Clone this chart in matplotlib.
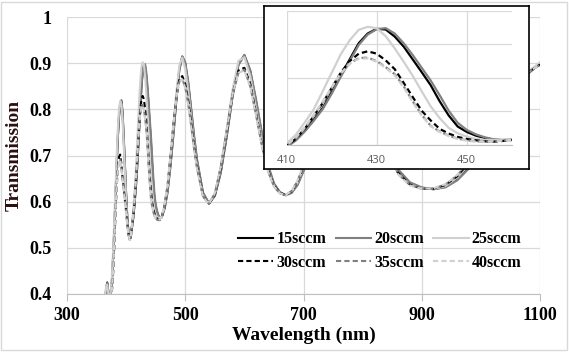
import matplotlib

matplotlib.use("Agg")
import matplotlib.pyplot as plt
from matplotlib.patches import Rectangle

# wavelength grid (nm)
WL = [360, 362, 364, 366, 368, 370, 372, 374, 376, 378, 380, 382, 384, 386, 388,
      390, 392, 394, 396, 398, 400, 402, 404, 406, 408,
      410, 412, 414, 416, 418, 420, 422, 424, 426, 428, 430, 432, 434, 436, 438,
      440, 442, 444, 446, 448, 450, 452, 454, 456, 458, 460,
      465, 470, 475, 480, 485, 490, 495, 500, 505, 510, 515, 520,
      530, 540, 550, 560, 570, 580, 590, 600, 610, 620, 630, 640, 650, 660, 670,
      680, 690, 700,
      720, 740, 760, 780, 800, 820, 840, 860, 880, 900, 920, 940, 960, 980, 1000,
      1020, 1040, 1060, 1080, 1100]

T_15 = [.30, .34, .38, .405, .425, .405, .39, .40, .43, .48, .54, .61, .68, .74, .785,
        .812, .818, .79, .735, .675, .615, .565, .532, .518, .527,
        .546, .565, .592, .625, .66, .707, .757, .805, .853, .882, .896, .894, .873, .843, .805,
        .767, .728, .68, .638, .605, .589, .578, .571, .566, .564, .566,
        .586, .622, .68, .748, .823, .887, .914, .899, .856, .798, .738, .687,
        .618, .596, .613, .664, .742, .830, .898, .917, .882, .815, .742, .676, .638, .620, .614,
        .620, .638, .668,
        .748, .839, .908, .923, .89, .82, .735, .667, .64, .63, .627, .632, .648, .675, .715,
        .76, .805, .845, .878, .90]

T_20 = [.30, .345, .385, .41, .424, .40, .385, .398, .428, .478, .538, .608, .678, .74, .787,
        .815, .82, .795, .74, .68, .618, .566, .532, .518, .526,
        .545, .563, .59, .622, .657, .703, .753, .80, .848, .879, .895, .898, .882, .853, .818,
        .78, .742, .698, .652, .616, .595, .582, .573, .567, .565, .566,
        .584, .619, .676, .744, .82, .885, .915, .902, .86, .803, .743, .691,
        .62, .597, .612, .662, .739, .827, .896, .918, .885, .82, .747, .68, .64, .621, .614,
        .619, .636, .666,
        .745, .836, .906, .924, .892, .824, .74, .67, .642, .631, .627, .631, .646, .672, .712,
        .757, .802, .843, .877, .90]

T_25 = [.31, .35, .39, .415, .42, .40, .39, .405, .44, .495, .56, .63, .70, .76, .80,
        .818, .81, .775, .72, .66, .60, .555, .527, .518, .532,
        .555, .58, .617, .656, .71, .765, .82, .862, .893, .902, .898, .874, .838, .798, .756,
        .71, .665, .63, .601, .585, .575, .568, .565, .565, .566, .567,
        .59, .63, .692, .763, .838, .895, .912, .888, .84, .78, .722, .675,
        .612, .597, .618, .675, .756, .843, .905, .913, .872, .80, .728, .667, .633, .618, .614,
        .622, .642, .674,
        .757, .849, .913, .92, .88, .808, .724, .662, .637, .629, .627, .634, .652, .68, .722,
        .767, .812, .851, .882, .902]

T_30 = [.28, .30, .32, .34, .36, .37, .38, .39, .405, .445, .505, .575, .635, .675, .697,
        .702, .682, .652, .626, .603, .58, .555, .532, .517, .524,
        .547, .568, .598, .636, .675, .72, .765, .80, .822, .829, .822, .802, .776, .735, .693,
        .652, .623, .598, .584, .574, .568, .564, .561, .56, .562, .565,
        .59, .632, .695, .765, .828, .866, .872, .855, .82, .772, .72, .676,
        .613, .595, .616, .672, .75, .833, .884, .89, .855, .79, .722, .668, .635, .619, .614,
        .622, .643, .676,
        .762, .85, .903, .905, .862, .795, .72, .662, .637, .628, .628, .636, .655, .685, .73,
        .772, .815, .852, .88, .897]

T_35 = [.28, .30, .32, .34, .36, .37, .38, .39, .41, .45, .51, .578, .632, .668, .688,
        .692, .675, .648, .622, .60, .577, .552, .53, .517, .525,
        .548, .57, .60, .638, .677, .72, .762, .793, .809, .81, .80, .782, .761, .725, .68,
        .64, .607, .59, .578, .569, .564, .561, .56, .561, .563, .565,
        .592, .635, .698, .766, .826, .86, .866, .848, .812, .765, .715, .672,
        .612, .595, .617, .674, .752, .832, .879, .886, .85, .786, .719, .666, .634, .618, .614,
        .623, .645, .678,
        .764, .851, .90, .90, .857, .79, .717, .66, .636, .628, .628, .637, .657, .688, .733,
        .775, .817, .853, .88, .896]

T_40 = [.28, .30, .32, .34, .36, .37, .38, .39, .41, .452, .513, .58, .634, .668, .686,
        .69, .674, .647, .621, .598, .575, .55, .529, .517, .526,
        .55, .572, .602, .64, .679, .722, .763, .792, .807, .808, .798, .78, .758, .722, .678,
        .638, .606, .589, .577, .568, .563, .56, .56, .561, .563, .565,
        .594, .637, .70, .768, .827, .86, .865, .846, .81, .763, .713, .67,
        .611, .595, .618, .676, .754, .833, .879, .884, .848, .784, .717, .665, .633, .618, .614,
        .624, .646, .68,
        .766, .852, .90, .898, .855, .788, .715, .659, .635, .628, .629, .638, .658, .69, .735,
        .777, .818, .854, .881, .896]

LABELS = ["15sccm", "20sccm", "25sccm", "30sccm", "35sccm", "40sccm"]
SERIES = [T_15, T_20, T_25, T_30, T_35, T_40]
COLORS = ["black", "#808080", "#d0d0d0", "black", "#808080", "#d0d0d0"]
DASHED = [False, False, False, True, True, True]

X_TICKS = [300, 500, 700, 900, 1100]
Y_TICKS = [0.4, 0.5, 0.6, 0.7, 0.8, 0.9, 1.0]
Y_TICK_LABELS = ["0.4", "0.5", "0.6", "0.7", "0.8", "0.9", "1"]
INSET_X_TICKS = [410, 430, 450]
INSET_Y_GRID = [0.55, 0.65, 0.75, 0.85, 0.95]

GRID = "#d9d9d9"
SERIF = "Liberation Serif"
DASH = (0, (2.5, 1.5))

fig = plt.figure(figsize=(5.69, 3.53), dpi=100)
fig.patches.append(Rectangle((1 / 569, 3 / 353), 565.5 / 569, 348 / 353,
                             transform=fig.transFigure, fill=False,
                             edgecolor=GRID, lw=1))

# main plot
ax = fig.add_axes([67 / 569, 1 - 294 / 353, 473 / 569, 277 / 353])
lines = []
for vals, lab, col, dsh in zip(SERIES, LABELS, COLORS, DASHED):
    ln, = ax.plot(WL, vals, color=col, lw=1.5, label=lab,
                  linestyle=DASH if dsh else "-")
    lines.append(ln)
ax.set_xlim(300, 1100)
ax.set_ylim(0.4, 1.0)
ax.set_xticks(X_TICKS)
ax.set_yticks(Y_TICKS, Y_TICK_LABELS)
ax.grid(True, color=GRID, lw=0.9)
ax.set_axisbelow(True)
for s in ["top", "right", "left"]:
    ax.spines[s].set_visible(False)
ax.spines["bottom"].set_color("#bfbfbf")
ax.tick_params(axis="x", length=5, color="#bfbfbf", pad=4)
ax.tick_params(axis="y", length=0, pad=11)
for t in ax.get_xticklabels() + ax.get_yticklabels():
    t.set_fontfamily(SERIF)
    t.set_fontweight("bold")
    t.set_fontsize(13)
ax.set_xlabel("Wavelength (nm)", fontfamily=SERIF, fontweight="bold",
              fontsize=14, labelpad=2)
ax.set_ylabel("Transmission", fontfamily=SERIF, fontweight="bold",
              fontsize=14, labelpad=5, color="#2a1010")

# legend filled row by row, like the original
order = [0, 3, 1, 4, 2, 5]
ax.legend([lines[i] for i in order], [LABELS[i] for i in order],
          ncol=3, loc="center left", frameon=False,
          bbox_to_anchor=(238 / 569, 1 - 251 / 353),
          bbox_transform=fig.transFigure,
          prop={"family": SERIF, "weight": "bold", "size": 11.5},
          handlelength=2.2, handletextpad=0.2, columnspacing=0.6,
          labelspacing=0.45, borderpad=0, borderaxespad=0)

# inset frame
box = fig.add_axes([264.3 / 569, 1 - 169 / 353, 264.4 / 569, 163 / 353])
box.set_xticks([])
box.set_yticks([])
for s in box.spines.values():
    s.set_color("black")
    s.set_linewidth(1.2)

# inset plot
ins = fig.add_axes([286.7 / 569, 1 - 145 / 353, 225 / 569, 134.3 / 353])
for vals, col, dsh in zip(SERIES, COLORS, DASHED):
    ins.plot(WL, vals, color=col, lw=1.6, linestyle=DASH if dsh else "-")
ins.set_xlim(410, 460)
ins.set_ylim(0.55, 0.95)
ins.set_xticks(INSET_X_TICKS)
ins.set_yticks(INSET_Y_GRID)
ins.grid(True, color=GRID, lw=0.9)
ins.set_axisbelow(True)
for s in ["top", "right", "left"]:
    ins.spines[s].set_visible(False)
ins.spines["bottom"].set_color("#bfbfbf")
ins.tick_params(axis="both", length=0)
ins.tick_params(axis="x", pad=7, labelsize=8, labelcolor="#595959")
ins.tick_params(axis="y", labelleft=False)
for t in ins.get_xticklabels():
    t.set_fontfamily("Open Sans")

fig.savefig("out.png", dpi=100)
